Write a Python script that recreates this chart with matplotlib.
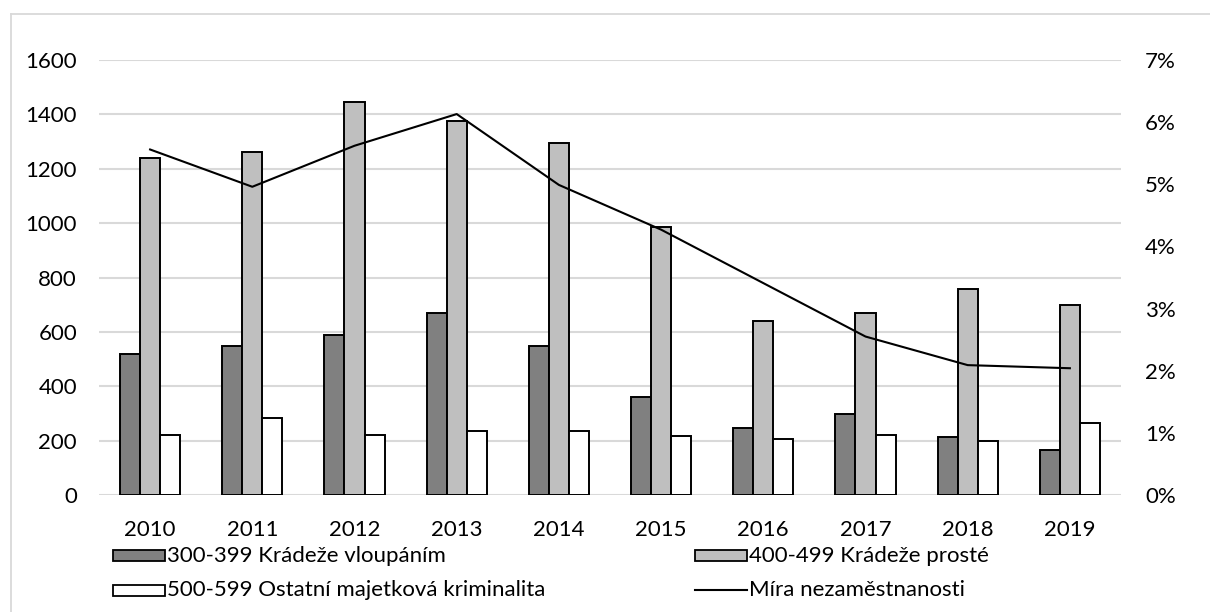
import matplotlib
matplotlib.use("Agg")
import matplotlib.pyplot as plt
from matplotlib.patches import Rectangle
from matplotlib.lines import Line2D
import numpy as np

years = ["2010", "2011", "2012", "2013", "2014", "2015", "2016", "2017", "2018", "2019"]
vloupanim = [518, 547, 588, 670, 547, 359, 246, 299, 212, 164]
proste = [1241, 1263, 1447, 1376, 1293, 986, 641, 670, 758, 700]
ostatni = [222, 282, 222, 235, 235, 217, 206, 222, 200, 264]
nezamestnanost = [5.56, 4.96, 5.62, 6.13, 4.99, 4.27, 3.41, 2.55, 2.09, 2.04]

labels = ["300-399 Krádeže vloupáním", "400-499 Krádeže prosté",
          "500-599 Ostatní majetková kriminalita", "Míra nezaměstnanosti"]
left_ticks = [0, 200, 400, 600, 800, 1000, 1200, 1400, 1600]
right_ticks = [0, 1, 2, 3, 4, 5, 6, 7]

plt.rcParams['font.family'] = ['Lato', 'DejaVu Sans']
FS = 16
W, H = 1210, 612
fig = plt.figure(figsize=(W / 100, H / 100), dpi=100)

def fx(px):
    return px / W

def fy(py):
    return 1 - py / H

# outer frame
fig.add_artist(Line2D([fx(10.5), fx(10.5)], [fy(14), fy(612)], color='#d9d9d9', lw=1.3))
fig.add_artist(Line2D([fx(10.5), fx(1210)], [fy(14), fy(14)], color='#d9d9d9', lw=1.3))

ax = fig.add_axes([fx(99), fy(495), fx(1121 - 99), (495 - 60) / H])
x = np.arange(len(years))
w = 0.196
cols = ['#808080', '#bfbfbf', '#ffffff']
for i, (vals, c) in enumerate(zip([vloupanim, proste, ostatni], cols)):
    ax.bar(x + (i - 1) * w, vals, width=w, color=c, edgecolor='black', linewidth=1.4, zorder=3)

ax.set_xlim(-0.5, len(years) - 0.5)
ax.set_ylim(0, 1600)
ax.set_yticks(left_ticks)
ax.set_yticklabels([str(t) for t in left_ticks], fontsize=FS)
ax.set_xticks(x)
ax.set_xticklabels(years, fontsize=FS)
ax.tick_params(axis='both', length=0, colors='black')
ax.tick_params(axis='y', pad=15.8)
ax.tick_params(axis='x', pad=18)
for t in left_ticks:
    ax.axhline(t, color='#d9d9d9', lw=1.5, zorder=1)
for s in ax.spines.values():
    s.set_visible(False)

ax2 = ax.twinx()
ax2.plot(x, np.array(nezamestnanost) / 100, color='black', lw=1.5, zorder=4)
ax2.set_ylim(0, 0.07)
ax2.set_yticks([t / 100 for t in right_ticks])
ax2.set_yticklabels([f"{t}%" for t in right_ticks], fontsize=FS)
ax2.tick_params(axis='y', length=0, pad=17.3, colors='black')
for s in ax2.spines.values():
    s.set_visible(False)

# legend
entries = [
    (113, 555.5, 'patch', cols[0], labels[0]),
    (695, 555.5, 'patch', cols[1], labels[1]),
    (113, 590, 'patch', cols[2], labels[2]),
    (695, 590, 'line', None, labels[3]),
]
for lx, ly, kind, c, lab in entries:
    if kind == 'patch':
        fig.add_artist(Rectangle((fx(lx), fy(ly + 5.5)), fx(52), 11 / H, facecolor=c,
                                 edgecolor='black', lw=1.3, transform=fig.transFigure))
    else:
        fig.add_artist(Line2D([fx(lx), fx(lx + 52)], [fy(ly), fy(ly)], color='black', lw=1.5))
    fig.text(fx(lx + 54), fy(ly), lab, fontsize=FS, va='center', ha='left', color='black')

fig.savefig("out.png", dpi=100)
